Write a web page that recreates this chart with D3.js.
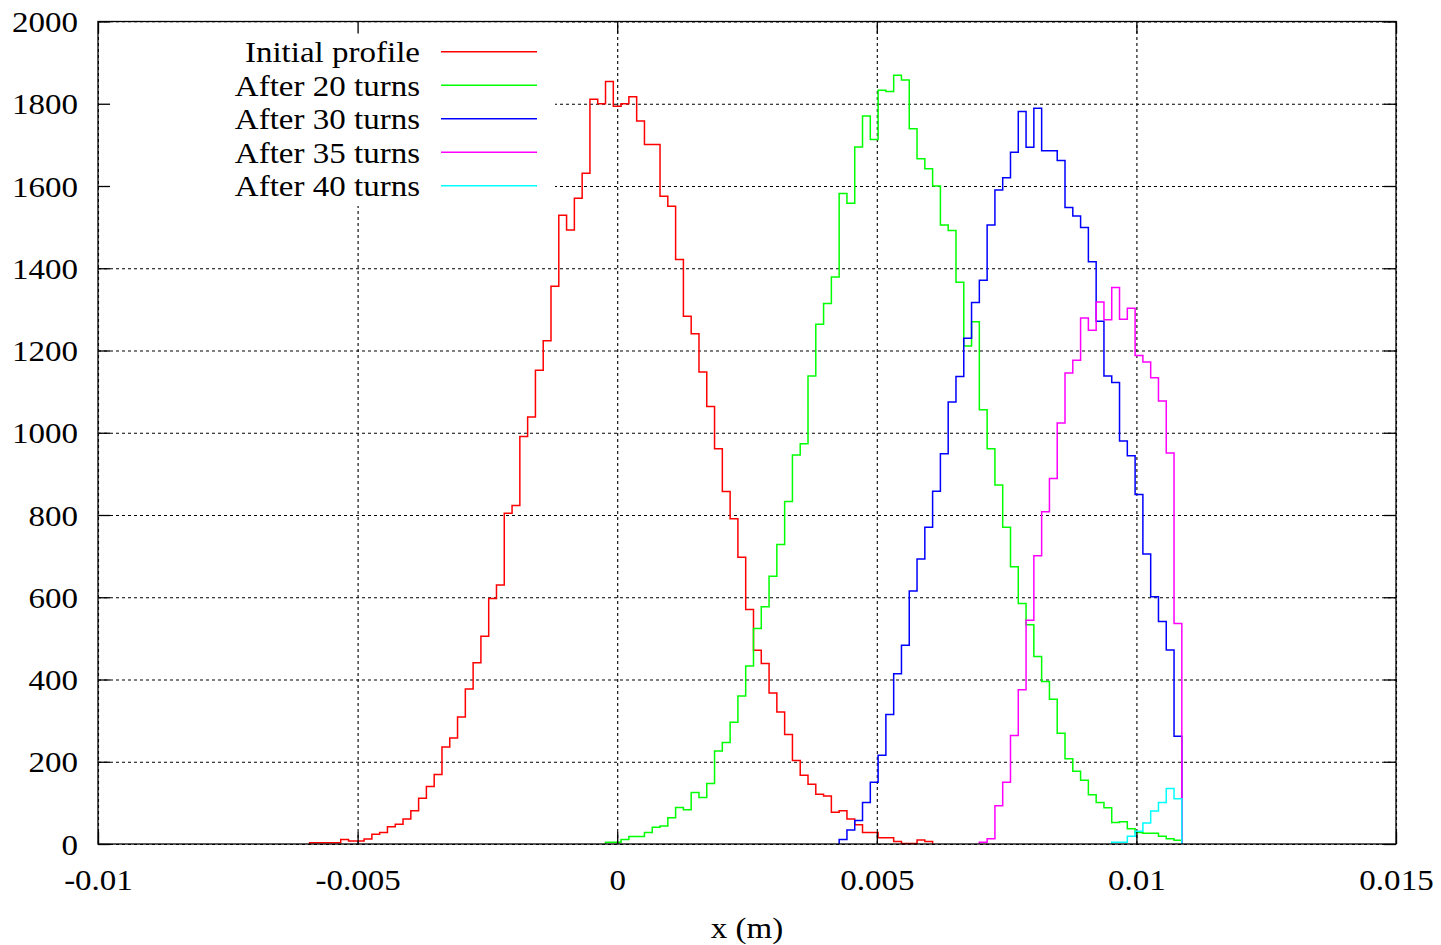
<!DOCTYPE html>
<html><head><meta charset="utf-8">
<script src="https://cdn.jsdelivr.net/npm/d3@7"></script>
<style>body{margin:0;background:#fff} svg{display:block}</style>
</head><body><svg id="c" width="1441" height="945"></svg>
<script>
// ---- data ----
const seriesNames = ["Initial profile", "After 20 turns", "After 30 turns", "After 35 turns", "After 40 turns"];
const seriesColors = ["#ff0000", "#00ff00", "#0000ff", "#ff00ff", "#00ffff"];
const binWidth = 0.00015; // m, histogram bin width
// first bin centre of each series (m)
const initialStart = -0.00585;
const turns20Start = -0.00015;
const turns30Start = 0.00435;
const turns35Start = 0.00705;
const turns40Start = 0.0096;
const initialCounts = [3,3,3,3,11,7,7,12,24,28,42,48,61,81,111,140,169,236,258,309,377,441,505,597,630,804,823,991,1038,1152,1224,1356,1529,1493,1570,1631,1811,1800,1854,1794,1800,1817,1758,1701,1701,1575,1551,1421,1283,1241,1148,1064,961,857,791,697,570,471,439,367,321,266,203,167,145,121,117,77,81,61,47,28,28,15,15,6,1,1,10,6];
const turns20Counts = [4,4,11,18,18,28,41,44,64,89,83,125,113,147,226,247,296,360,433,524,577,651,728,833,946,973,1138,1264,1314,1379,1582,1558,1695,1770,1713,1833,1830,1869,1858,1739,1666,1642,1600,1505,1492,1366,1211,1270,1056,961,873,770,674,585,533,456,395,352,269,207,177,155,120,101,88,52,54,37,28,26,26,19,13,9];
const turns30Counts = [11,34,57,101,150,216,315,414,483,615,693,770,858,949,1075,1137,1230,1317,1371,1505,1590,1620,1682,1781,1694,1789,1686,1686,1662,1548,1527,1499,1416,1271,1138,1122,980,944,850,705,601,541,472,262];
const turns35Counts = [4,13,93,150,264,375,544,701,808,889,1024,1145,1176,1279,1249,1318,1275,1353,1276,1303,1188,1172,1134,1077,951,536];
const turns40Counts = [4,4,19,31,51,80,101,135,110];
const xTicks = [-0.01, -0.005, 0, 0.005, 0.01, 0.015];
const xTickLabels = ["-0.01", "-0.005", "0", "0.005", "0.01", "0.015"];
const yTicks = [0, 200, 400, 600, 800, 1000, 1200, 1400, 1600, 1800, 2000];
const yTickLabels = ["0", "200", "400", "600", "800", "1000", "1200", "1400", "1600", "1800", "2000"];
const xAxisTitle = "x (m)";

// ---- chart ----
const FONT = "'Liberation Serif','Times New Roman',serif";
const FS = 30, STRETCH = 1.1;
const svg = d3.select("#c");
const L = 98, R = 1396, T = 21.5, B = 844;
const x = d3.scaleLinear().domain([-0.01, 0.015]).range([L, R]);
const y = d3.scaleLinear().domain([0, 2000]).range([B, T]);

function stretch(sel) {
  sel.each(function () {
    const len = this.getComputedTextLength();
    d3.select(this).attr("textLength", len * STRETCH).attr("lengthAdjust", "spacingAndGlyphs");
  });
}

// grid
const gridStyle = g => g.call(s => s.select(".domain").remove())
  .selectAll(".tick line").attr("stroke", "#000").attr("stroke-width", 1.1)
  .attr("stroke-dasharray", "3,3");
svg.append("g").attr("transform", `translate(0,${B})`)
  .call(d3.axisBottom(x).tickValues(xTicks).tickSize(-(B - T)).tickFormat(""))
  .call(gridStyle);
svg.append("g").attr("transform", `translate(${L},0)`)
  .call(d3.axisLeft(y).tickValues(yTicks).tickSize(-(R - L)).tickFormat(""))
  .call(gridStyle);

// opaque key background
svg.append("rect").attr("x", L + 1).attr("y", T + 1).attr("width", 555 - L - 1).attr("height", 206 - T - 1).attr("fill", "#fff");

// series
const series = [
  { start: initialStart, counts: initialCounts },
  { start: turns20Start, counts: turns20Counts },
  { start: turns30Start, counts: turns30Counts },
  { start: turns35Start, counts: turns35Counts },
  { start: turns40Start, counts: turns40Counts }
];
const line = d3.line().x(d => x(d[0])).y(d => y(d[1]));
series.forEach((s, si) => {
  const pts = [];
  const e0 = s.start - binWidth / 2;
  pts.push([e0, 0]);
  s.counts.forEach((c, i) => {
    pts.push([e0 + i * binWidth, c]);
    pts.push([e0 + (i + 1) * binWidth, c]);
  });
  pts.push([e0 + s.counts.length * binWidth, 0]);
  svg.append("path").datum(pts).attr("d", line).attr("fill", "none")
    .attr("stroke", seriesColors[si]).attr("stroke-width", 1.5).attr("stroke-linejoin", "miter");
});

// border + ticks
svg.append("rect").attr("x", L).attr("y", T).attr("width", R - L).attr("height", B - T)
  .attr("fill", "none").attr("stroke", "#000").attr("stroke-width", 1.3);
const tickStyle = g => { g.select(".domain").remove(); g.selectAll(".tick line").attr("stroke", "#000").attr("stroke-width", 1.3); };
const bx = svg.append("g").attr("transform", `translate(0,${B})`)
  .call(d3.axisBottom(x).tickValues(xTicks).tickSizeInner(-12).tickSizeOuter(0).tickFormat((d, i) => xTickLabels[i]))
  .call(tickStyle);
bx.selectAll("text").attr("y", 46).attr("dy", 0).attr("fill", "#000")
  .attr("font-family", FONT).attr("font-size", FS).call(stretch);
svg.append("g").attr("transform", `translate(0,${T})`)
  .call(d3.axisTop(x).tickValues(xTicks).tickSizeInner(-12).tickSizeOuter(0).tickFormat(""))
  .call(tickStyle);
const ly = svg.append("g").attr("transform", `translate(${L},0)`)
  .call(d3.axisLeft(y).tickValues(yTicks).tickSizeInner(-12).tickSizeOuter(0).tickFormat((d, i) => yTickLabels[i]))
  .call(tickStyle);
ly.selectAll("text").attr("x", -20).attr("dy", 10).attr("fill", "#000")
  .attr("font-family", FONT).attr("font-size", FS).call(stretch);
svg.append("g").attr("transform", `translate(${R},0)`)
  .call(d3.axisRight(y).tickValues(yTicks).tickSizeInner(-12).tickSizeOuter(0).tickFormat(""))
  .call(tickStyle);

// axis title
svg.append("text").attr("x", (L + R) / 2).attr("y", 938).attr("text-anchor", "middle")
  .attr("font-family", FONT).attr("font-size", FS).text(xAxisTitle).call(stretch);

// legend
const legend = svg.append("g");
seriesNames.forEach((n, i) => {
  const cy = 51.7 + i * 33.5;
  legend.append("text").attr("x", 420).attr("y", cy + 10.7).attr("text-anchor", "end")
    .attr("font-family", FONT).attr("font-size", FS).text(n).call(stretch);
  legend.append("line").attr("x1", 441).attr("x2", 537).attr("y1", cy).attr("y2", cy)
    .attr("stroke", seriesColors[i]).attr("stroke-width", 1.5);
});
</script></body></html>
